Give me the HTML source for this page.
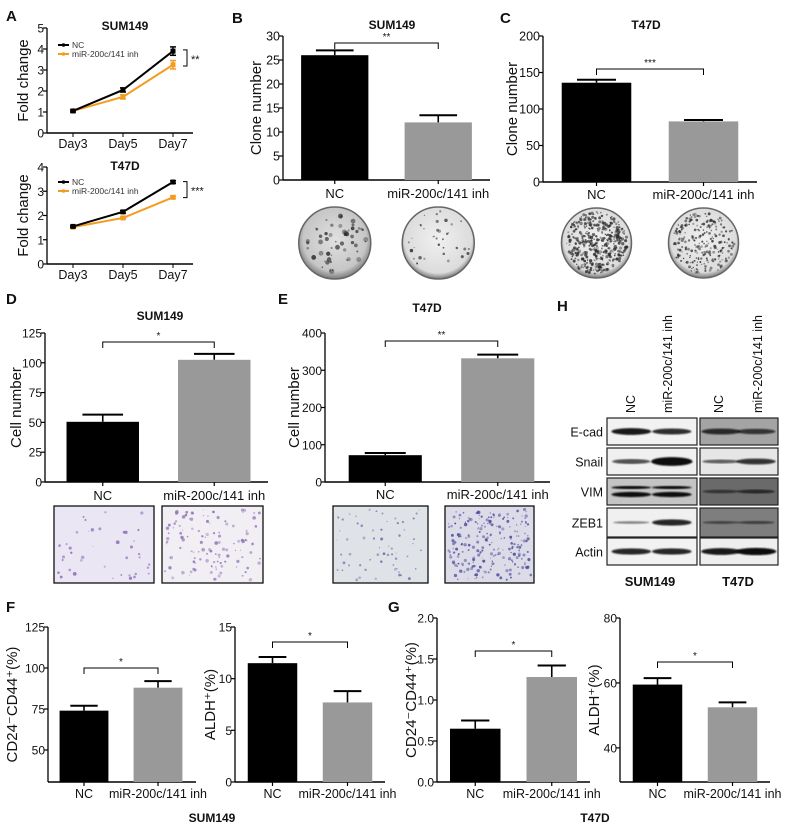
<!DOCTYPE html>
<html><head><meta charset="utf-8">
<style>
html,body{margin:0;padding:0;background:#fff;}
svg{display:block;font-family:"Liberation Sans",Arial,sans-serif;}
</style></head>
<body>
<svg id="fig" width="787" height="829" viewBox="0 0 787 829" xmlns="http://www.w3.org/2000/svg">
<defs>
<radialGradient id="dishGrad" cx="50%" cy="45%" r="55%">
<stop offset="0%" stop-color="#e0e0e0"/><stop offset="80%" stop-color="#c6c6c6"/><stop offset="100%" stop-color="#7a7a7a"/></radialGradient>
<radialGradient id="dishGrad2" cx="50%" cy="45%" r="55%">
<stop offset="0%" stop-color="#f0f0f0"/><stop offset="85%" stop-color="#dcdcdc"/><stop offset="100%" stop-color="#777"/></radialGradient>
<filter id="blur1"><feGaussianBlur stdDeviation="0.9"/></filter>
</defs>
</svg>
<script>
// ---------- Panel A data ----------
const daysA = ["Day3","Day5","Day7"];
const a1NC = [1.05, 2.05, 3.9];
const a1NCerr = [0.05, 0.1, 0.2];
const a1Inh = [1.05, 1.72, 3.25];
const a1InhErr = [0.05, 0.1, 0.2];
const a1Ticks = [0,1,2,3,4,5];
const a2NC = [1.55, 2.15, 3.38];
const a2NCerr = [0.04, 0.05, 0.05];
const a2Inh = [1.52, 1.9, 2.75];
const a2InhErr = [0.04, 0.04, 0.05];
const a2Ticks = [0,1,2,3,4];
// ---------- Bar panels data ----------
const groups = ["NC","miR-200c/141 inh"];
const bVals = [26, 12];       const bErr = [1, 1.5];   const bTicks = [0,5,10,15,20,25,30];
const cVals = [136, 83];      const cErr = [4, 2];     const cTicks = [0,50,100,150,200];
const dVals = [50.5, 102.5];  const dErr = [6, 5];     const dTicks = [0,25,50,75,100,125];
const eVals = [72, 332];      const eErr = [6, 10];    const eTicks = [0,100,200,300,400];
const f1Vals = [74, 88];      const f1Err = [3, 4];    const f1Ticks = [50,75,100,125];
const f2Vals = [11.5, 7.7];   const f2Err = [0.6, 1.1];const f2Ticks = [0,5,10,15];
const g1Vals = [0.65, 1.28];  const g1Err = [0.1, 0.14];const g1Ticks = [0,0.5,1.0,1.5,2.0];
const g2Vals = [59.5, 52.5];  const g2Err = [2, 1.5];  const g2Ticks = [40,60,80];

const NS="http://www.w3.org/2000/svg";
const svg=document.getElementById('fig');
function el(tag,attrs,parent,text){const e=document.createElementNS(NS,tag);for(const k in attrs)e.setAttribute(k,attrs[k]);if(text!==undefined)e.textContent=text;(parent||svg).appendChild(e);return e;}
function lin(d0,d1,r0,r1){return v=>r0+(v-d0)/(d1-d0)*(r1-r0);}
let seed=12345;function rnd(){seed=(seed*16807)%2147483647;return seed/2147483647;}

function txt(x,y,s,size,opts,parent,name){
  opts=opts||{};
  const t=el('text',{x:x,y:y,'font-size':size,'text-anchor':opts.anchor||'middle','font-weight':opts.bold?'bold':'normal',fill:'#111'},parent,s);
  if(opts.rot)t.setAttribute('transform','rotate(-90 '+x+' '+y+')');
  
  
  return t;
}
function panelLetter(x,y,s){const t=txt(x,y,s,15,{bold:true,anchor:'start'},null,'panel-letter-'+s.toLowerCase());return t;}

function yAxis(g,ax,yS,ticks,fmt,yTop,yBot,name,ts){
  const l=el('line',{x1:ax,x2:ax,y1:yTop,y2:yBot,stroke:'#000','stroke-width':1.3},g);
  
  
  ticks.forEach(v=>{
    const y=yS(v);
    el('line',{x1:ax-4,x2:ax,y1:y,y2:y,stroke:'#000','stroke-width':1.2},g);
    txt(ax-3,y+4.5,fmt?fmt(v):String(v),ts||12.5,{anchor:'end'},g,'y-tick-label');
  });
}

function barChart(o){
  const g=el('g',{},svg);
  
  
  const yS=lin(o.vmin,o.vmax,o.yBot,o.yTop);
  const step=(o.xEnd-o.ax)/o.cats.length;
  const bw=step*(o.ratio||0.65);
  yAxis(g,o.ax,yS,o.ticks,o.fmt,o.yTop,o.yBot,o.name,o.tickSize);
  const xl=el('line',{x1:o.ax,x2:o.xEnd,y1:o.yBot,y2:o.yBot,stroke:'#000','stroke-width':1.5},g);
  
  
  const centers=[];
  o.cats.forEach((c,i)=>{
    const cx=o.ax+step*(i+0.5)+(o.shift||0);centers.push(cx);
    const v=o.vals[i],e=o.errs[i];
    const top=yS(v);
    el('line',{x1:cx,x2:cx,y1:top,y2:yS(v+e),stroke:'#000','stroke-width':1.6},g);
    el('line',{x1:cx-bw*0.28,x2:cx+bw*0.28,y1:yS(v+e),y2:yS(v+e),stroke:'#000','stroke-width':2},g);
    const r=el('rect',{x:cx-bw/2,y:top,width:bw,height:o.yBot-top,fill:i===0?'#000':'#999'},g);
    
    
    el('line',{x1:cx,x2:cx,y1:o.yBot,y2:o.yBot+4,stroke:'#000','stroke-width':1.2},g);
    txt(cx,o.yBot+(o.labGap||16),c,o.catSize||13,{},g,'x-category-label');
  });
  const by=o.bracketY;
  const br=el('path',{d:`M${centers[0]},${by+6}V${by}H${centers[1]}V${by+6}`,fill:'none',stroke:'#000','stroke-width':1},g);
  
  
  txt((centers[0]+centers[1])/2,by-3,o.stars,10,{},g,'significance-stars');
  txt(o.ylabX,(o.yTop+o.yBot)/2,o.ylab,o.ylabSize||15,{rot:true},g,'y-axis-title');
  if(o.title)txt(o.titleX||(o.ax+o.xEnd)/2,o.titleY,o.title,12,{bold:true},g,'chart-title');
  return centers;
}

function lineChart(o){
  const g=el('g',{},svg);
  
  
  const yS=lin(0,o.vmax,o.yBot,o.yTop);
  const xS=i=>o.px0+i*(o.px1-o.px0)/(o.cats.length-1);
  yAxis(g,o.ax,yS,o.ticks,null,o.yTop,o.yBot,o.name,12);
  el('line',{x1:o.ax,x2:o.xEnd,y1:o.yBot,y2:o.yBot,stroke:'#000','stroke-width':1.4},g);
  o.cats.forEach((c,i)=>{el('line',{x1:xS(i),x2:xS(i),y1:o.yBot,y2:o.yBot+4,stroke:'#000'},g);txt(xS(i),o.yBot+15,c,12.5,{},g,'x-tick-label');});
  const series=[[o.inh,o.inhErr,'#f39c1f','mir-inh'],[o.nc,o.ncErr,'#000','nc']];
  series.forEach(([vals,errs,col,nm])=>{
    const pts=vals.map((v,i)=>xS(i)+','+yS(v)).join(' ');
    const pl=el('polyline',{points:pts,fill:'none',stroke:col,'stroke-width':2},g);
    
    
    vals.forEach((v,i)=>{
      const x=xS(i);
      el('line',{x1:x,x2:x,y1:yS(v-errs[i]),y2:yS(v+errs[i]),stroke:col,'stroke-width':1.5},g);
      el('line',{x1:x-3,x2:x+3,y1:yS(v+errs[i]),y2:yS(v+errs[i]),stroke:col,'stroke-width':1.5},g);
      el('line',{x1:x-3,x2:x+3,y1:yS(v-errs[i]),y2:yS(v-errs[i]),stroke:col,'stroke-width':1.5},g);
      const m=el('rect',{x:x-2.5,y:yS(v)-2.5,width:5,height:5,fill:col},g);
      
      
    });
  });
  const lg=el('g',{},g);
  
  
  [[o.legY,'#000','NC'],[o.legY+9,'#f39c1f','miR-200c/141 inh']].forEach(([y,c,s])=>{
    el('line',{x1:58,x2:69,y1:y,y2:y,stroke:c,'stroke-width':2},lg);
    el('circle',{cx:63.5,cy:y,r:1.8,fill:c},lg);
    const t=el('text',{x:72,y:y+3,'font-size':8.5,fill:'#333'},lg,s);
    
    
  });
  const last=o.cats.length-1;
  const y1=yS(o.nc[last]+o.ncErr[last]*0.3),y2=yS(o.inh[last]-o.inhErr[last]*0.3);
  el('path',{d:`M183,${y1}H187V${y2}H183`,fill:'none',stroke:'#000','stroke-width':1},g);
  txt(191,(y1+y2)/2+5,o.stars,11,{anchor:'start'},g,'significance-stars');
  txt(28,(o.yTop+o.yBot)/2,'Fold change',15,{rot:true},g,'y-axis-title');
  txt(125,o.titleY,o.title,12,{bold:true},g,'chart-title');
}

// ===== Panel A =====
panelLetter(6,21,'A');
lineChart({name:'chart-a-sum149',cats:daysA,nc:a1NC,ncErr:a1NCerr,inh:a1Inh,inhErr:a1InhErr,ticks:a1Ticks,vmax:5,yTop:28,yBot:133,ax:47,xEnd:193,px0:73,px1:173,legY:45,stars:'**',title:'SUM149',titleY:30});
lineChart({name:'chart-a-t47d',cats:daysA,nc:a2NC,ncErr:a2NCerr,inh:a2Inh,inhErr:a2InhErr,ticks:a2Ticks,vmax:4,yTop:167,yBot:264,ax:47,xEnd:193,px0:73,px1:173,legY:182,stars:'***',title:'T47D',titleY:170});

// ===== Panel B/C =====
panelLetter(232,23,'B');
const bC=barChart({name:'chart-b-clone-sum149',cats:groups,vals:bVals,errs:bErr,ticks:bTicks,vmin:0,vmax:30,yTop:36,yBot:180,ax:283,xEnd:490,bracketY:43,stars:'**',ylab:'Clone number',ylabX:261,title:'SUM149',titleX:392,titleY:29,labGap:18});
panelLetter(500,23,'C');
const cC=barChart({name:'chart-c-clone-t47d',cats:groups,vals:cVals,errs:cErr,ticks:cTicks,vmin:0,vmax:200,yTop:36,yBot:182,ax:543,xEnd:757,bracketY:69,stars:'***',ylab:'Clone number',ylabX:517,title:'T47D',titleX:646,titleY:29,labGap:17});

function dish(cx,cy,r,n,dark,grad,name){
  const g=el('g',{},svg);
  
  
  el('circle',{cx:cx,cy:cy,r:r,fill:'url(#'+grad+')',stroke:'#666','stroke-width':1.5},g);
  for(let i=0;i<n;i++){const a=rnd()*6.283,d=Math.sqrt(rnd())*(r-4);
    el('circle',{cx:cx+Math.cos(a)*d,cy:cy+Math.sin(a)*d,r:0.6+rnd()*dark,fill:'#2a2a2a','fill-opacity':0.35+rnd()*0.5},g);}
}
dish(bC[0],243,36,55,2.0,'dishGrad','colony-dish-b-nc');
dish(bC[1],243,36,35,1.2,'dishGrad2','colony-dish-b-inh');
dish(cC[0],243,35,420,1.1,'dishGrad2','colony-dish-c-nc');
dish(cC[1],243,35,240,0.9,'dishGrad2','colony-dish-c-inh');

// ===== Panel D/E =====
panelLetter(6,304,'D');
barChart({name:'chart-d-migration-sum149',cats:groups,vals:dVals,errs:dErr,ticks:dTicks,vmin:0,vmax:125,yTop:333,yBot:482,ax:45,xEnd:268,bracketY:342,stars:'*',ylab:'Cell number',ylabX:21,title:'SUM149',titleX:160,titleY:320,labGap:18,shift:2,tickSize:12});
panelLetter(278,304,'E');
barChart({name:'chart-e-migration-t47d',cats:groups,vals:eVals,errs:eErr,ticks:eTicks,vmin:0,vmax:400,yTop:333,yBot:482,ax:325,xEnd:550,bracketY:341,stars:'**',ylab:'Cell number',ylabX:299,title:'T47D',titleX:427,titleY:312,labGap:17,shift:4,tickSize:12});

function micro(x,y,w,h,bg,n,col,sz,name){
  const g=el('g',{},svg);
  
  
  el('rect',{x:x,y:y,width:w,height:h,fill:bg},g);
  for(let i=0;i<n;i++){el('circle',{cx:x+3+rnd()*(w-6),cy:y+3+rnd()*(h-6),r:0.5+rnd()*sz,fill:col,'fill-opacity':0.4+rnd()*0.5},g);}
  el('rect',{x:x,y:y,width:w,height:h,fill:'none',stroke:'#111','stroke-width':1.3},g);
}
micro(54,506,100,77,'#ebe6f3',40,'#8a6bb8',1.4,'micrograph-d-nc');
micro(162,506,101,77,'#f1eff4',120,'#8f73b7',1.3,'micrograph-d-inh');
micro(333,506,95,77,'#dfe3e8',60,'#6d6aa6',1.0,'micrograph-e-nc');
micro(445,506,89,77,'#dcdbe8',230,'#4f4a9a',1.2,'micrograph-e-inh');

// ===== Panel H: western blots =====
panelLetter(557,311,'H');
const hg=el('g',{},svg);


const blotRows=[['E-cad',418,445],['Snail',448,475],['VIM',478,505],['ZEB1',508,537],['Actin',538,565]];
const blotBg=[['#f2f2f2','#a4a4a4'],['#f0f0f0','#e6e6e6'],['#c4c4c4','#6a6a6a'],['#f0f0f0','#7e7e7e'],['#f2f2f2','#eeeeee']];
const bands=[[[1,.85],[.8,.7]],[[.6,1.4],[.4,.8]],[[1,1],[.3,.45]],[[.15,.9],[.2,.25]],[[.9,.9],[1,1.1]]];
const panelsX=[[607,697],[700,778]];
blotRows.forEach(([nm,y0,y1],ri)=>{
  txt(603,(y0+y1)/2+5,nm,12.5,{anchor:'end'},hg,'blot-row-label');
  panelsX.forEach(([x0,x1],pi)=>{
    const r=el('rect',{x:x0,y:y0,width:x1-x0,height:y1-y0,fill:blotBg[ri][pi],stroke:'#222','stroke-width':1.2},hg);
    
    
    const lanes=[x0+(x1-x0)*0.27,x0+(x1-x0)*0.72];
    lanes.forEach((lx,li)=>{
      const k=bands[ri][pi][li];const cy=(y0+y1)/2;
      if(ri===2&&pi===0){
        el('ellipse',{cx:lx,cy:cy-4,rx:20,ry:1.6,fill:'#111',filter:'url(#blur1)'},hg);
        el('ellipse',{cx:lx,cy:cy+3,rx:20,ry:2.6,fill:'#111',filter:'url(#blur1)'},hg);
      } else {
        el('ellipse',{cx:lx,cy:cy,rx:18+k*2,ry:1+k*2.4,fill:'#0a0a0a','fill-opacity':Math.min(1,0.35+k*0.6),filter:'url(#blur1)'},hg);
      }
    });
  });
});
[['NC',635],['miR-200c/141 inh',672],['NC',723],['miR-200c/141 inh',762]].forEach(([s,x])=>{
  txt(x,413,s,12.5,{rot:true,anchor:'start'},hg,'blot-lane-label');
});
txt(650,586,'SUM149',13,{bold:true},hg,'blot-cell-line-label');
txt(738,586,'T47D',13,{bold:true},hg,'blot-cell-line-label');

// ===== Panel F/G =====
panelLetter(6,612,'F');
barChart({name:'chart-f-cd24-sum149',cats:groups,vals:f1Vals,errs:f1Err,ticks:f1Ticks,vmin:30.5,vmax:125,yTop:627,yBot:782,ax:48,xEnd:196,bracketY:668,stars:'*',ylab:'CD24⁻CD44⁺(%)',ylabX:17,labGap:16,catSize:12.5,ratio:0.66,shift:-1,tickSize:12});
barChart({name:'chart-f-aldh-sum149',cats:groups,vals:f2Vals,errs:f2Err,ticks:f2Ticks,vmin:0,vmax:15,yTop:627,yBot:782,ax:235,xEnd:385,bracketY:642,stars:'*',ylab:'ALDH⁺(%)',ylabX:215,labGap:16,catSize:12.5,ratio:0.66,tickSize:12});
txt(212,822,'SUM149',12,{bold:true},null,'cell-line-label-sum149');
panelLetter(388,612,'G');
barChart({name:'chart-g-cd24-t47d',cats:groups,vals:g1Vals,errs:g1Err,ticks:g1Ticks,vmin:0,vmax:2.0,yTop:618,yBot:782,ax:437,xEnd:590,bracketY:651,stars:'*',ylab:'CD24⁻CD44⁺(%)',ylabX:416,labGap:16,catSize:12.5,ratio:0.66,fmt:v=>v.toFixed(1),tickSize:12});
barChart({name:'chart-g-aldh-t47d',cats:groups,vals:g2Vals,errs:g2Err,ticks:g2Ticks,vmin:29.5,vmax:80,yTop:618,yBot:782,ax:620,xEnd:770,bracketY:662,stars:'*',ylab:'ALDH⁺(%)',ylabX:599,labGap:16,catSize:12.5,ratio:0.66,tickSize:12});
txt(595,822,'T47D',12,{bold:true},null,'cell-line-label-t47d');
</script>
</body></html>
